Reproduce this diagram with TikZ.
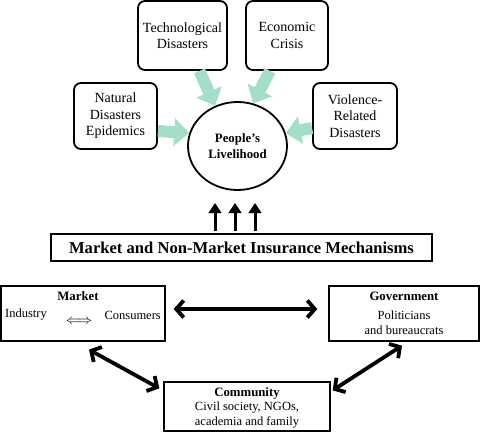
\documentclass[tikz,border=0pt]{standalone}
\usepackage{fontspec}
\setmainfont{Liberation Serif}
\usetikzlibrary{arrows.meta,shapes.geometric}
\definecolor{mint}{HTML}{A3DEC6}
\tikzset{
  topbox/.style={draw, line width=1.8pt, rounded corners=7pt, fill=white, inner sep=0pt, align=center,
     font=\fontsize{14}{16.5}\selectfont},
  botbox/.style={draw, line width=1.3pt, fill=white, inner sep=0pt},
  greenarrow/.style={draw=mint, line width=12pt, -{Triangle[length=15pt,width=27pt]}},
  uparrow/.style={line width=3pt, -{Triangle[length=10pt,width=12.5pt]}},
  dblarrow/.style={line width=3.8pt, {Straight Barb[length=7.5pt,width=17pt]}-{Straight Barb[length=7.5pt,width=17pt]}},
  btext/.style={inner sep=0pt, align=center, font=\fontsize{12.5}{15}\selectfont},
}
\begin{document}
\begin{tikzpicture}[x=1pt,y=-1pt]
\useasboundingbox (0,0) rectangle (480,432);
% top boxes
\node[topbox, minimum width=89pt, minimum height=69pt] (tech) at (182.5,35.5) {Technological\\Disasters};
\node[topbox, minimum width=82pt, minimum height=69pt] (econ) at (287,35.5) {Economic\\Crisis};
\node[topbox, minimum width=83pt, minimum height=66pt] (nat) at (115.5,116) {Natural\\Disasters\\Epidemics};
\node[topbox, minimum width=84pt, minimum height=66pt] (vio) at (355,116) {Violence-\\Related\\Disasters};
\node[draw, ellipse, line width=1.8pt, inner sep=0pt, minimum width=99pt, minimum height=88pt, align=center,
      font=\bfseries\fontsize{12.8}{16}\selectfont] (circ) at (237.5,146) {People’s\\Livelihood};
% green arrows
\draw[greenarrow] ([xshift=17pt]tech.south) -- (circ.119);
\draw[greenarrow] ([xshift=-17pt]econ.south) -- (circ.70);
\draw[greenarrow] ([yshift=-15pt]nat.east) -- (circ.165);
\draw[greenarrow] ([yshift=-12pt]vio.west) -- (circ.15);
% mechanism box
\node[draw, line width=1.8pt, inner sep=0pt, minimum width=381pt, minimum height=27pt,
      font=\bfseries\fontsize{16.6}{18}\selectfont] (mech) at (241.5,247.5) {Market and Non-Market Insurance Mechanisms};
\coordinate (a1) at (215,203);
\coordinate (a2) at (235,203);
\coordinate (a3) at (255,203);
\draw[uparrow] ([yshift=2pt]a1 |- mech.north) -- (a1);
\draw[uparrow] ([yshift=2pt]a2 |- mech.north) -- (a2);
\draw[uparrow] ([yshift=2pt]a3 |- mech.north) -- (a3);
% bottom boxes
\node[botbox, minimum width=164pt, minimum height=55pt] (market) at (83,313.5) {};
\node[botbox, minimum width=150pt, minimum height=55pt] (gov) at (404,313.5) {};
\node[botbox, minimum width=166pt, minimum height=49pt] (comm) at (247,406.5) {};
\node[btext, font=\bfseries\fontsize{12.8}{15}\selectfont] (mkt-t) at (78,296) {Market};
\node[btext, anchor=west] (ind) at (5,315) {Industry};
\node[btext, anchor=east] (cons) at (161,315) {Consumers};
\node[btext, font=\fontsize{15}{15}\selectfont] (dbl) at (79,322) {$\Longleftrightarrow$};
\node[btext, font=\bfseries\fontsize{12.8}{15}\selectfont] (gov-t) at (404,296) {Government};
\node[btext] (gov-b) at (404,322.5) {Politicians\\and bureaucrats};
\node[btext, font=\bfseries\fontsize{12.8}{15}\selectfont] (comm-t) at (247,393) {Community};
\node[btext] (comm-b) at (247,415.5) {Civil society, NGOs,\\academia and family};
% black double arrows
\draw[dblarrow] ([yshift=4.5pt]market.east) ++(8pt,0) coordinate (h1) (h1) -- ([yshift=4.5pt,xshift=-11pt]gov.west);
\draw[dblarrow] ([xshift=6pt,yshift=-8pt]market.south) -- ([xshift=-4pt,yshift=-7pt]comm.north west);
\draw[dblarrow] ([xshift=-2pt,yshift=-4pt]gov.south) -- ([xshift=2pt,yshift=-9pt]comm.north east);
\end{tikzpicture}
\end{document}
